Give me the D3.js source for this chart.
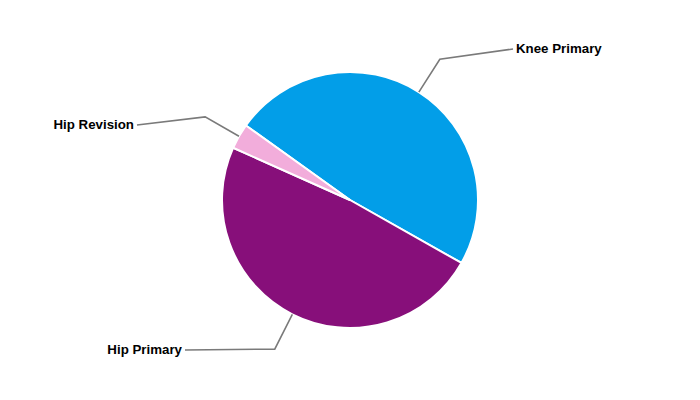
<!DOCTYPE html>
<html>
<head>
<meta charset="utf-8">
<script src="https://cdn.jsdelivr.net/npm/d3@7"></script>
<style>
  html, body { margin: 0; padding: 0; background: #fff; }
  svg { display: block; }
  text { font-family: "Liberation Sans", Arial, sans-serif; font-weight: bold; font-size: 13.3px; fill: #000; }
</style>
</head>
<body>
<svg id="chart" width="700" height="400"></svg>
<script>
// Data
const categories = ["Knee Primary", "Hip Primary", "Hip Revision"];
const values = [48.3, 48.5, 3.2];
const colors = ["#029ee8", "#870f7a", "#f2addb"];

// Layout
const width = 700, height = 400;
const cx = 350, cy = 200, radius = 128;
const startDeg = 305.6;
const elbowRadius = 167;
// label anchor x (where connector ends) and y, plus side
const labelLayout = [
  { x: 513, y: 49, side: 1 },
  { x: 185, y: 350, side: -1 },
  { x: 137, y: 125, side: -1 }
];

const svg = d3.select("#chart");
const g = svg.append("g").attr("transform", `translate(${cx},${cy})`);

const start = startDeg * Math.PI / 180;
const pie = d3.pie().sort(null).value(d => d.value)
  .startAngle(start).endAngle(start + 2 * Math.PI);

const data = categories.map((c, i) => ({ name: c, value: values[i], color: colors[i] }));
const arcs = pie(data);

const arc = d3.arc().innerRadius(0).outerRadius(radius);

g.selectAll("path.slice").data(arcs).enter().append("path")
  .attr("class", "slice")
  .attr("d", arc)
  .attr("fill", d => d.data.color)
  .attr("stroke", "#fff")
  .attr("stroke-width", 2)
  .attr("stroke-linejoin", "round");

// connectors and labels
arcs.forEach((d, i) => {
  const mid = (d.startAngle + d.endAngle) / 2;
  const p0 = [radius * Math.sin(mid), -radius * Math.cos(mid)];
  const p1 = [elbowRadius * Math.sin(mid), -elbowRadius * Math.cos(mid)];
  const L = labelLayout[i];
  const p2 = [L.x - cx, L.y - cy];
  g.append("path")
    .attr("d", d3.line()([p0, p1, p2]))
    .attr("fill", "none")
    .attr("stroke", "#7a7a7a")
    .attr("stroke-width", 1.6);
  g.append("text")
    .attr("x", p2[0] + L.side * 3)
    .attr("y", p2[1])
    .attr("dy", "0.33em")
    .attr("text-anchor", L.side > 0 ? "start" : "end")
    .text(d.data.name);
});
</script>
</body>
</html>
